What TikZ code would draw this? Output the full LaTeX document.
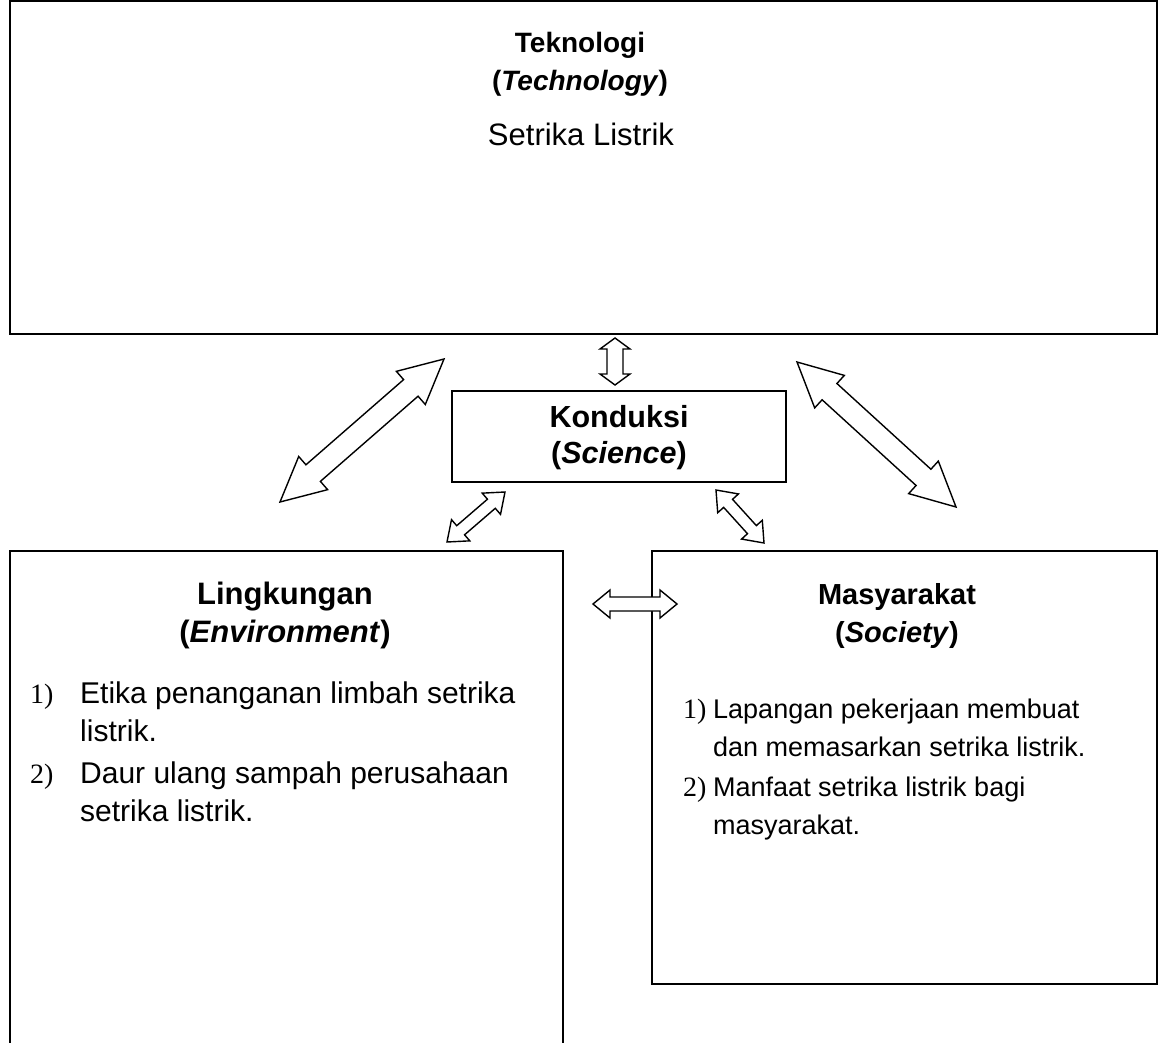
\documentclass[tikz,border=0pt]{standalone}
\usepackage{fontspec}
\setmainfont{Liberation Sans}
\newfontfamily\numfont{Liberation Serif}
\usetikzlibrary{calc}

\tikzset{
  box/.style={draw, line width=1.8pt, rectangle, inner sep=0pt},
  blockarrow/.style={draw, line width=1.4pt, fill=white, line join=miter},
  head/.style={font=\fontsize{#1}{32}\selectfont\bfseries, inner sep=0pt, anchor=base},
  head/.default=29,
  body/.style={font=\fontsize{#1}{34}\selectfont, inner sep=0pt, anchor=base west},
  body/.default=28,
  num/.style={font=\fontsize{28}{32}\selectfont\numfont, inner sep=0pt, anchor=base west},
}

% hollow double-headed block arrow between two named tips
% #1,#2 tips, #3 shaft half width, #4 head half width, #5 head length
\newcommand{\twinarrow}[5]{%
  \draw[blockarrow] (#1)
    -- ($(#1)!#5!(#2)!#4!90:(#2)$)
    -- ($(#1)!#5!(#2)!#3!90:(#2)$)
    -- ($(#2)!#5!(#1)!#3!90:(#2)$)
    -- ($(#2)!#5!(#1)!#4!90:(#2)$)
    -- (#2)
    -- ($(#2)!#5!(#1)!#4!-90:(#2)$)
    -- ($(#2)!#5!(#1)!#3!-90:(#2)$)
    -- ($(#1)!#5!(#2)!#3!-90:(#2)$)
    -- ($(#1)!#5!(#2)!#4!-90:(#2)$)
    -- cycle;}

\begin{document}
\begin{tikzpicture}[x=1pt,y=-1pt]
  \useasboundingbox (0,0) rectangle (1159,1043);
  \clip (0,0) rectangle (1159,1043);

  % boxes
  \node[box, minimum width=1147pt, minimum height=333pt] (tech) at (583.5,167.5) {};
  \node[box, minimum width=334pt, minimum height=91pt] (sci) at (619,436.5) {};
  \node[box, minimum width=553pt, minimum height=540pt] (env) at (286.5,821) {};
  \node[box, minimum width=505pt, minimum height=433pt] (soc) at (904.5,767.5) {};

  % Technology
  \node[head=28] (techA) at (580,53) {Teknologi};
  \node[head=28] (techB) at (580,91) {(\textit{Technology})};
  \node[font=\fontsize{31}{36}\selectfont, inner sep=0pt, anchor=base] (techC) at (581,146) {Setrika Listrik};

  % Science
  \node[head=30.5] (sciA) at (619,427) {Konduksi};
  \node[head=30.5] (sciB) at (619,463) {(\textit{Science})};

  % Environment
  \node[head=31] (envA) at (285,604) {Lingkungan};
  \node[head=31] (envB) at (285,642) {(\textit{Environment})};
  \node[num]     (envN1) at (30,703) {1)};
  \node[body=30] (envL1) at (80,703) {Etika penanganan limbah setrika};
  \node[body=30] (envL2) at (80,741) {listrik.};
  \node[num]     (envN2) at (30,783) {2)};
  \node[body=30] (envL3) at (80,783) {Daur ulang sampah perusahaan};
  \node[body=30] (envL4) at (80,821) {setrika listrik.};

  % Society
  \node[head=29] (socA) at (897,604) {Masyarakat};
  \node[head=29] (socB) at (897,642) {(\textit{Society})};
  \node[num]     (socN1) at (683,718) {1)};
  \node[body=27] (socL1) at (713,718) {Lapangan pekerjaan membuat};
  \node[body=27] (socL2) at (713,756) {dan memasarkan setrika listrik.};
  \node[num]     (socN2) at (683,796) {2)};
  \node[body=27] (socL3) at (713,796) {Manfaat setrika listrik bagi};
  \node[body=27] (socL4) at (713,834) {masyarakat.};

  % arrow tips
  \coordinate (tv1) at (615,338);
  \coordinate (tv2) at (615,385);
  \coordinate (bl1) at (444,359);
  \coordinate (bl2) at (280,502);
  \coordinate (br1) at (797,362);
  \coordinate (br2) at (956,507);
  \coordinate (sl1) at (505,492);
  \coordinate (sl2) at (447,542);
  \coordinate (sr1) at (716,490);
  \coordinate (sr2) at (764,543);
  \coordinate (h1) at (593,604);
  \coordinate (h2) at (677,604);

  % block arrows
  \twinarrow{tv1}{tv2}{8pt}{15pt}{11pt}
  \twinarrow{bl1}{bl2}{11pt}{22pt}{44pt}
  \twinarrow{br1}{br2}{11pt}{22pt}{44pt}
  \twinarrow{sl1}{sl2}{6pt}{14pt}{18pt}
  \twinarrow{sr1}{sr2}{6pt}{14pt}{18pt}
  \twinarrow{h1}{h2}{7pt}{14pt}{17pt}
\end{tikzpicture}
\end{document}
